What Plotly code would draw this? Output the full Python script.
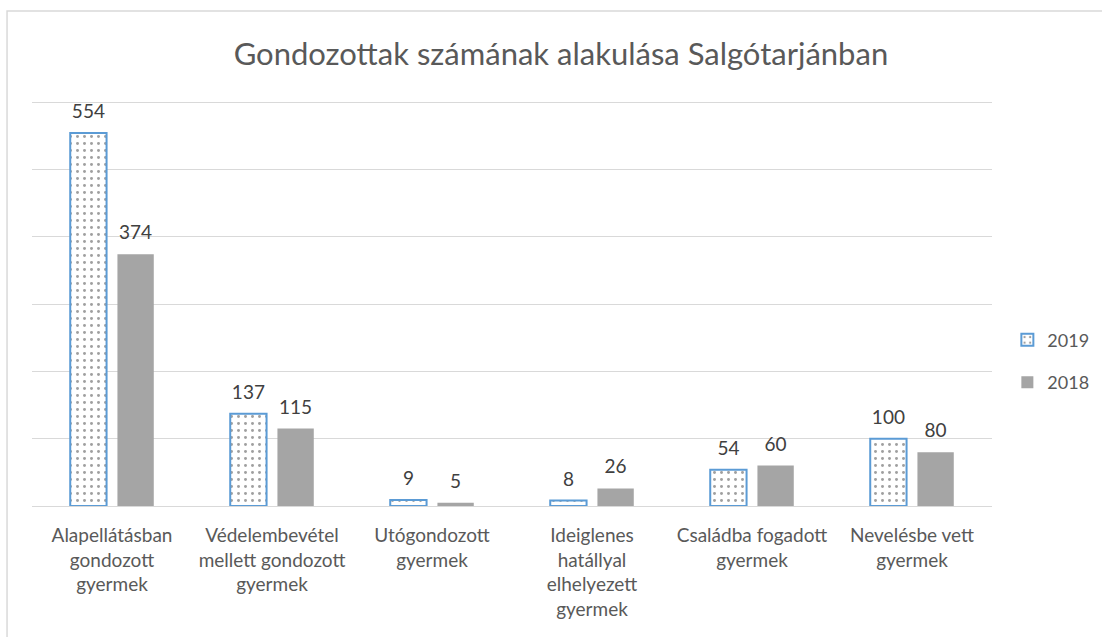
import plotly.graph_objects as go

categories = [
    "Alapellátásban<br>gondozott<br>gyermek",
    "Védelembevétel<br>mellett gondozott<br>gyermek",
    "Utógondozott<br>gyermek",
    "Ideiglenes<br>hatállyal<br>elhelyezett<br>gyermek",
    "Családba fogadott<br>gyermek",
    "Nevelésbe vett<br>gyermek",
]
values_2019 = [554, 137, 9, 8, 54, 100]
values_2018 = [374, 115, 5, 26, 60, 80]
title_text = "Gondozottak számának alakulása Salgótarjánban"

FONT = "Lato"
TXT = "#595959"
LABEL_LIFT = 12  # invisible spacer (data units) between bar top and its value label

fig = go.Figure()
fig.add_trace(go.Bar(
    name="2019", x=categories, y=values_2019, offsetgroup="a",
    marker=dict(color="white",
                line=dict(color="#5b9bd5", width=2),
                pattern=dict(shape=".", fgcolor="#404040", bgcolor="white",
                             size=7, solidity=0.14)),
    legendgroup="a",
))
fig.add_trace(go.Bar(
    name="2018", x=categories, y=values_2018, offsetgroup="b",
    marker=dict(color="#a5a5a5", line=dict(width=0)),
    legendgroup="b",
))
# value labels, lifted slightly above the bars via transparent spacer bars
for vals, grp in ((values_2019, "a"), (values_2018, "b")):
    fig.add_trace(go.Bar(
        x=categories, y=[LABEL_LIFT] * len(vals), base=vals, offsetgroup=grp,
        text=vals, textposition="outside", cliponaxis=False,
        textfont=dict(size=19, color="#404040", family=FONT),
        marker=dict(color="rgba(0,0,0,0)", line=dict(width=0)),
        showlegend=False, hoverinfo="skip",
    ))

fig.update_layout(
    width=1102, height=637,
    margin=dict(l=32, r=110, t=98, b=131, autoexpand=False),
    paper_bgcolor="white", plot_bgcolor="white",
    barmode="group", bargap=0.41, bargroupgap=0.23,
    title=dict(text=title_text, x=0.509, xanchor="center", y=0.915, yanchor="middle",
               font=dict(family=FONT, size=31, color=TXT)),
    font=dict(family=FONT, color=TXT),
    legend=dict(x=1.016, xanchor="left", y=0.355, yanchor="middle",
                font=dict(size=18, color=TXT, family=FONT),
                itemwidth=30, tracegroupgap=16, bgcolor="rgba(0,0,0,0)"),
    shapes=[dict(type="rect", xref="paper", yref="paper",
                 x0=-0.026, x1=1.3, y0=-0.6, y1=1.2132,
                 line=dict(color="#d9d9d9", width=1.5), fillcolor="rgba(0,0,0,0)",
                 layer="below")],
)
fig.update_xaxes(showgrid=False, showline=True, linecolor="#d9d9d9", linewidth=1,
                 ticks="", tickfont=dict(size=19, color=TXT, family=FONT),
                 tickangle=0, automargin=False, ticklabelstandoff=12)
fig.update_yaxes(range=[0, 606], tickvals=[100, 200, 300, 400, 500, 600],
                 showgrid=True, gridcolor="#d9d9d9",
                 gridwidth=1, showticklabels=False, zeroline=False, showline=False,
                 automargin=False)

fig.write_html("out.html", config={"displayModeBar": False},
               post_script="document.body.style.margin='0';")
